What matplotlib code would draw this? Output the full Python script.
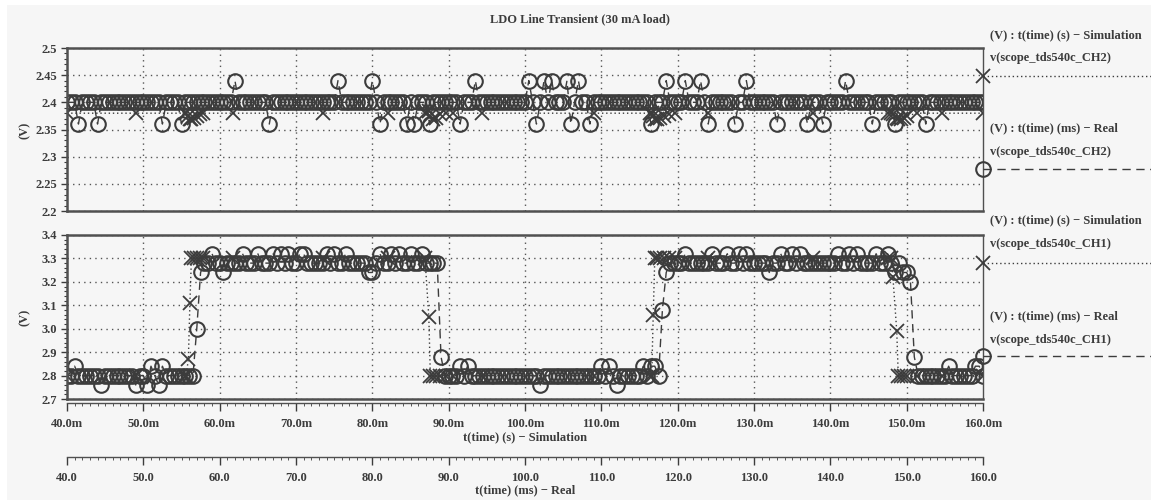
import numpy as np
import matplotlib
matplotlib.use("Agg")
import matplotlib.pyplot as plt
from matplotlib.lines import Line2D
from matplotlib.patches import Rectangle
from matplotlib.ticker import MultipleLocator, FixedLocator

plt.rcParams['font.family'] = ['Liberation Serif', 'DejaVu Serif']
plt.rcParams['font.weight'] = 'bold'

# ---- data (time in ms) ----
# scope capture, one sample every 0.5 ms from 40.0 to 160.0 ms
t_real = np.arange(40.0, 160.01, 0.5)

# v(scope_tds540c_CH2) - Real (LDO output)
ch2_real = [
    2.40, 2.40, 2.40, 2.36, 2.40, 2.40, 2.40, 2.40, 2.36, 2.40, 2.40, 2.40, 2.40, 2.40, 2.40, 2.40, 2.40, 2.40, 2.40, 2.40,  # 40
    2.40, 2.40, 2.40, 2.40, 2.40, 2.36, 2.40, 2.40, 2.40, 2.40, 2.36, 2.40, 2.40, 2.40, 2.40, 2.40, 2.40, 2.40, 2.40, 2.40,  # 50
    2.40, 2.40, 2.40, 2.40, 2.44, 2.40, 2.40, 2.40, 2.40, 2.40, 2.40, 2.40, 2.40, 2.36, 2.40, 2.40, 2.40, 2.40, 2.40, 2.40,  # 60
    2.40, 2.40, 2.40, 2.40, 2.40, 2.40, 2.40, 2.40, 2.40, 2.40, 2.40, 2.44, 2.40, 2.40, 2.40, 2.40, 2.40, 2.40, 2.40, 2.40,  # 70
    2.44, 2.40, 2.36, 2.40, 2.40, 2.40, 2.40, 2.40, 2.40, 2.36, 2.40, 2.36, 2.40, 2.40, 2.40, 2.36, 2.40, 2.40, 2.40, 2.40,  # 80
    2.40, 2.40, 2.40, 2.36, 2.40, 2.40, 2.40, 2.44, 2.40, 2.40, 2.40, 2.40, 2.40, 2.40, 2.40, 2.40, 2.40, 2.40, 2.40, 2.40,  # 90
    2.40, 2.44, 2.40, 2.36, 2.40, 2.44, 2.40, 2.44, 2.40, 2.40, 2.40, 2.44, 2.36, 2.40, 2.44, 2.40, 2.40, 2.36, 2.40, 2.40,  # 100
    2.40, 2.40, 2.40, 2.40, 2.40, 2.40, 2.40, 2.40, 2.40, 2.40, 2.40, 2.40, 2.40, 2.36, 2.40, 2.40, 2.40, 2.44, 2.40, 2.40,  # 110
    2.40, 2.40, 2.44, 2.40, 2.40, 2.40, 2.44, 2.40, 2.36, 2.40, 2.40, 2.40, 2.40, 2.40, 2.40, 2.36, 2.40, 2.40, 2.44, 2.40,  # 120
    2.40, 2.40, 2.40, 2.40, 2.40, 2.40, 2.36, 2.40, 2.40, 2.40, 2.40, 2.40, 2.40, 2.40, 2.36, 2.40, 2.40, 2.40, 2.36, 2.40,  # 130
    2.40, 2.40, 2.40, 2.40, 2.44, 2.40, 2.40, 2.40, 2.40, 2.40, 2.40, 2.36, 2.40, 2.40, 2.40, 2.40, 2.40, 2.36, 2.40, 2.40,  # 140
    2.40, 2.40, 2.40, 2.40, 2.40, 2.36, 2.40, 2.40, 2.40, 2.40, 2.40, 2.40, 2.40, 2.40, 2.40, 2.40, 2.40, 2.40, 2.40, 2.40,  # 150
    2.40,
]

# v(scope_tds540c_CH1) - Real (line input)
ch1_real = [
    2.80, 2.80, 2.84, 2.80, 2.80, 2.80, 2.80, 2.80, 2.80, 2.76, 2.80, 2.80, 2.80, 2.80, 2.80, 2.80, 2.80, 2.80, 2.76, 2.80,  # 40
    2.80, 2.76, 2.84, 2.80, 2.76, 2.84, 2.80, 2.80, 2.80, 2.80, 2.80, 2.80, 2.80, 2.80, 3.00, 3.24, 3.28, 3.28, 3.32, 3.28,  # 50
    3.28, 3.24, 3.28, 3.28, 3.28, 3.28, 3.32, 3.28, 3.28, 3.28, 3.32, 3.28, 3.28, 3.28, 3.32, 3.28, 3.32, 3.28, 3.32, 3.28,  # 60
    3.28, 3.32, 3.32, 3.28, 3.28, 3.28, 3.28, 3.28, 3.32, 3.28, 3.32, 3.28, 3.28, 3.32, 3.28, 3.28, 3.28, 3.28, 3.28, 3.24,  # 70
    3.24, 3.28, 3.32, 3.28, 3.28, 3.32, 3.28, 3.32, 3.28, 3.28, 3.32, 3.28, 3.28, 3.32, 3.28, 3.28, 3.28, 3.28, 2.88, 2.80,  # 80
    2.80, 2.80, 2.80, 2.84, 2.80, 2.84, 2.80, 2.80, 2.80, 2.80, 2.80, 2.80, 2.80, 2.80, 2.80, 2.80, 2.80, 2.80, 2.80, 2.80,  # 90
    2.80, 2.80, 2.80, 2.80, 2.76, 2.80, 2.80, 2.80, 2.80, 2.80, 2.80, 2.80, 2.80, 2.80, 2.80, 2.80, 2.80, 2.80, 2.80, 2.80,  # 100
    2.84, 2.80, 2.84, 2.80, 2.76, 2.80, 2.80, 2.80, 2.80, 2.80, 2.80, 2.84, 2.80, 2.84, 2.84, 2.80, 3.08, 3.24, 3.28, 3.28,  # 110
    3.28, 3.28, 3.32, 3.28, 3.28, 3.28, 3.28, 3.28, 3.28, 3.32, 3.28, 3.28, 3.28, 3.32, 3.28, 3.28, 3.32, 3.28, 3.32, 3.28,  # 120
    3.28, 3.28, 3.28, 3.28, 3.24, 3.28, 3.28, 3.32, 3.28, 3.28, 3.32, 3.28, 3.32, 3.28, 3.28, 3.28, 3.28, 3.28, 3.28, 3.28,  # 130
    3.28, 3.28, 3.32, 3.28, 3.28, 3.32, 3.28, 3.32, 3.28, 3.28, 3.28, 3.28, 3.32, 3.28, 3.28, 3.32, 3.28, 3.24, 3.28, 3.24,  # 140
    3.24, 3.20, 2.88, 2.80, 2.80, 2.80, 2.80, 2.80, 2.80, 2.80, 2.80, 2.84, 2.80, 2.80, 2.80, 2.80, 2.80, 2.80, 2.84, 2.84,  # 150
    2.80,
]

# simulation time points (adaptive step, dense at the line steps)
t_sim = [40.0, 49.0, 55.4, 55.6, 55.9, 56.1, 56.3, 56.6, 57.0, 57.4, 57.8, 61.7, 73.5, 82.0,
         86.9, 87.4, 87.6, 87.9, 88.3, 88.9, 89.6, 90.6, 94.4, 109.0,
         116.4, 116.6, 116.8, 117.0, 117.3, 117.7, 118.2, 118.8, 119.6, 124.0, 137.7,
         147.6, 148.0, 148.2, 148.7, 148.9, 149.2, 149.6, 150.0, 151.4, 154.6, 160.0]

ch2_sim = [2.380, 2.380, 2.380, 2.380, 2.375, 2.370, 2.370, 2.372, 2.375, 2.378, 2.380, 2.380, 2.380, 2.380,
           2.380, 2.384, 2.375, 2.370, 2.372, 2.378, 2.380, 2.380, 2.380, 2.380,
           2.380, 2.380, 2.375, 2.370, 2.370, 2.372, 2.375, 2.378, 2.380, 2.380, 2.380,
           2.380, 2.380, 2.378, 2.372, 2.370, 2.370, 2.372, 2.375, 2.380, 2.380, 2.380]

ch1_sim = [2.80, 2.80, 2.80, 2.80, 2.87, 3.11, 3.30, 3.30, 3.30, 3.30, 3.30, 3.30, 3.30, 3.30,
           3.30, 3.05, 2.80, 2.80, 2.80, 2.80, 2.80, 2.80, 2.80, 2.80,
           2.80, 2.80, 3.06, 3.30, 3.30, 3.30, 3.30, 3.30, 3.30, 3.30, 3.30,
           3.30, 3.30, 3.22, 2.99, 2.80, 2.80, 2.80, 2.80, 2.80, 2.80, 2.80]

ch2_ticks = [2.2, 2.25, 2.3, 2.35, 2.4, 2.45, 2.5]
ch2_ticklabels = ['2.2', '2.25', '2.3', '2.35', '2.4', '2.45', '2.5']
ch1_ticks = [2.7, 2.8, 2.9, 3.0, 3.1, 3.2, 3.3, 3.4]
ch1_ticklabels = ['2.7', '2.8', '2.9', '3.0', '3.1', '3.2', '3.3', '3.4']
t_ticks = [40, 50, 60, 70, 80, 90, 100, 110, 120, 130, 140, 150, 160]
sim_ticklabels = ['%.1fm' % v for v in t_ticks]
real_ticklabels = ['%.1f' % v for v in t_ticks]

# ---- style ----
W, H = 1151, 504
BG = '#f6f6f6'
INK = '#3c3c3c'
GRID = '#555555'
FS = 9


def box(l, t, r, b):
    return [l / W, 1 - b / H, (r - l) / W, (b - t) / H]


fig = plt.figure(figsize=(W / 100, H / 100), dpi=100)
fig.patch.set_facecolor('white')
fig.patches.append(Rectangle((7 / W, 4 / H), 1 - 7 / W, 1 - 9 / H, transform=fig.transFigure,
                             facecolor=BG, edgecolor='none', zorder=-10))

real_kw = dict(color=INK, lw=1.0, dashes=(6, 4), marker='o', ms=10.5, mfc='none', mec=INK, mew=1.5)
sim_kw = dict(color=INK, lw=1.0, ls=(0, (1, 2)), marker='x', ms=10, mec=INK, mew=1.3)


def style_axes(ax, ylim, yticks, ylabels):
    ax.set_facecolor(BG)
    ax.set_xlim(40, 160)
    ax.set_ylim(*ylim)
    ax.set_yticks(yticks)
    ax.set_yticklabels(ylabels)
    ax.yaxis.set_minor_locator(FixedLocator(np.linspace(ylim[0], ylim[1], (len(yticks) - 1) * 5 + 1)))
    ax.set_xticks(t_ticks[1:-1])
    ax.tick_params(axis='x', length=0, labelbottom=False)
    ax.tick_params(axis='y', which='major', length=4, width=1, color=INK, pad=3, labelsize=FS, labelcolor=INK)
    ax.tick_params(axis='y', which='minor', length=2, width=0.8, color=INK)
    ax.grid(True, color=GRID, ls=(0, (1, 3)), lw=1.0)
    for s in ['top', 'bottom', 'left']:
        ax.spines[s].set_linewidth(1.8)
        ax.spines[s].set_color('#505050')
    ax.spines['right'].set_linewidth(1.0)
    ax.spines['right'].set_color('#505050')


ax1 = fig.add_axes(box(67, 48, 983, 211))
style_axes(ax1, (2.2, 2.5), ch2_ticks, ch2_ticklabels)
ax1.plot(t_real, ch2_real, **real_kw)
ax1.plot(t_sim, ch2_sim, **sim_kw)

ax2 = fig.add_axes(box(67, 235, 983, 399))
style_axes(ax2, (2.7, 3.4), ch1_ticks, ch1_ticklabels)
ax2.plot(t_real, ch1_real, **real_kw)
ax2.plot(t_sim, ch1_sim, **sim_kw)

# the two time axes under the plots
for top, bot, labels in [(398, 403, sim_ticklabels), (452, 457, real_ticklabels)]:
    axt = fig.add_axes(box(67, top, 983, bot))
    axt.patch.set_visible(False)
    for s in ['top', 'left', 'right']:
        axt.spines[s].set_visible(False)
    axt.spines['bottom'].set_color('#505050')
    axt.spines['bottom'].set_linewidth(1.0)
    axt.set_xlim(40, 160)
    axt.set_yticks([])
    axt.set_xticks(t_ticks)
    axt.set_xticklabels(labels)
    axt.xaxis.set_minor_locator(MultipleLocator(1))
    axt.tick_params(axis='x', which='major', length=6, width=1, color=INK, pad=5, labelsize=FS, labelcolor=INK)
    axt.tick_params(axis='x', which='minor', length=2, width=0.6, color=INK)

fig.text(525 / W, 1 - 437 / H, 't(time) (s) \u2212 Simulation', ha='center', va='center', fontsize=FS, color=INK)
fig.text(525 / W, 1 - 490 / H, 't(time) (ms) \u2212 Real', ha='center', va='center', fontsize=FS, color=INK)

fig.text(25 / W, 1 - 130 / H, '(V)', rotation=90, ha='center', va='center', fontsize=FS, color=INK)
fig.text(25 / W, 1 - 317 / H, '(V)', rotation=90, ha='center', va='center', fontsize=FS, color=INK)

fig.text(580 / W, 1 - 19 / H, 'LDO Line Transient (30 mA load)', ha='center', va='center', fontsize=9, color=INK)

# legend blocks on the right
legend_rows = [
    (35, 58, 76, 'sim', 'CH2'), (128, 152, 169, 'real', 'CH2'),
    (220, 244, 263, 'sim', 'CH1'), (316, 340, 356, 'real', 'CH1'),
]
for y_head, y_name, y_mark, kind, ch in legend_rows:
    head = '(V) : t(time) (s) \u2212 Simulation' if kind == 'sim' else '(V) : t(time) (ms) \u2212 Real'
    fig.text(990 / W, 1 - y_head / H, head, ha='left', va='center', fontsize=FS, color=INK)
    fig.text(990 / W, 1 - y_name / H, 'v(scope_tds540c_%s)' % ch, ha='left', va='center', fontsize=FS, color=INK)
    kw = dict(sim_kw if kind == 'sim' else real_kw)
    line = Line2D([983 / W, 1.0], [1 - y_mark / H] * 2, transform=fig.transFigure, markevery=[0], **kw)
    line.set_clip_on(False)
    fig.add_artist(line)

fig.savefig('out.png', dpi=100, facecolor=fig.get_facecolor())
